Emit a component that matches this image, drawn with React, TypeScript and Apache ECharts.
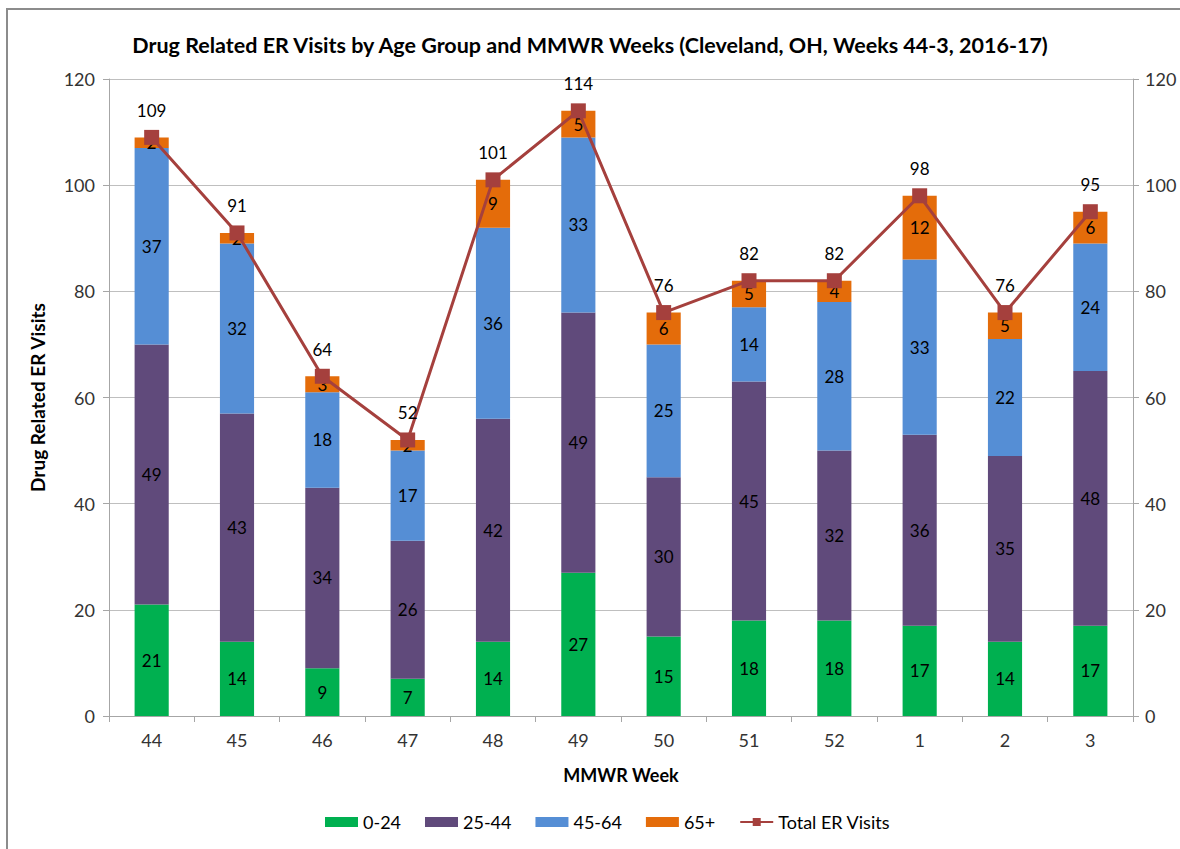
import React, { useEffect, useRef } from "react";
import * as echarts from "echarts";

const weeks = ["44", "45", "46", "47", "48", "49", "50", "51", "52", "1", "2", "3"];
const age0to24 = [21, 14, 9, 7, 14, 27, 15, 18, 18, 17, 14, 17];
const age25to44 = [49, 43, 34, 26, 42, 49, 30, 45, 32, 36, 35, 48];
const age45to64 = [37, 32, 18, 17, 36, 33, 25, 14, 28, 33, 22, 24];
const age65plus = [2, 2, 3, 2, 9, 5, 6, 5, 4, 12, 5, 6];
const totalVisits = [109, 91, 64, 52, 101, 114, 76, 82, 82, 98, 76, 95];

const FONT = "Lato, 'Open Sans', sans-serif";

export default function App() {
  const ref = useRef<HTMLDivElement>(null);
  useEffect(() => {
    document.body.style.margin = "0";
    const chart = echarts.init(ref.current!, null, { renderer: "svg" });
    const segLabel = {
      show: true,
      position: "inside" as const,
      color: "#000",
      fontSize: 17,
      fontFamily: FONT,
    };
    const barSeries = (name: string, data: number[], color: string) => ({
      name,
      type: "bar" as const,
      stack: "total",
      data,
      barWidth: "40%",
      itemStyle: { color },
      label: segLabel,
    });
    const axisStyle = {
      axisLine: { show: true, lineStyle: { color: "#A6A6A6", width: 1 } },
      axisTick: { show: true, length: 6, lineStyle: { color: "#A6A6A6" } },
    };
    chart.setOption({
      animation: false,
      textStyle: { fontFamily: FONT },
      title: {
        text: "Drug Related ER Visits by Age Group and MMWR Weeks (Cleveland, OH, Weeks 44-3, 2016-17)",
        left: "center",
        top: 29,
        textStyle: { fontSize: 21.5, fontWeight: "bold", color: "#000", fontFamily: FONT },
      },
      graphic: [
        {
          type: "rect",
          shape: { x: 7, y: 9, width: 1200, height: 900 },
          style: { fill: "none", stroke: "#8C8C8C", lineWidth: 2 },
          silent: true,
        },
      ],
      grid: { left: 109, right: 47, top: 79, bottom: 133 },
      legend: {
        bottom: 13,
        left: 320,
        itemWidth: 33,
        itemHeight: 10,
        itemGap: 24,
        textStyle: { fontSize: 18, color: "#000", fontFamily: FONT },
        data: [
          { name: "0-24", icon: "rect" },
          { name: "25-44", icon: "rect" },
          { name: "45-64", icon: "rect" },
          { name: "65+", icon: "rect" },
          { name: "Total ER Visits" },
        ],
      },
      xAxis: {
        type: "category",
        data: weeks,
        name: "MMWR Week",
        nameLocation: "middle",
        nameGap: 50,
        nameTextStyle: { fontSize: 18, fontWeight: "bold", color: "#000", fontFamily: FONT },
        axisLabel: { fontSize: 18, color: "#333", margin: 15, fontFamily: FONT },
        ...axisStyle,
      },
      yAxis: [
        {
          type: "value",
          min: 0,
          max: 120,
          interval: 20,
          name: "Drug Related ER Visits",
          nameLocation: "middle",
          nameGap: 62,
          nameTextStyle: { fontSize: 19, fontWeight: "bold", color: "#000", fontFamily: FONT },
          axisLabel: { fontSize: 18, color: "#333", margin: 14, fontFamily: FONT },
          splitLine: { show: true, lineStyle: { color: "#BFBFBF" } },
          ...axisStyle,
        },
        {
          type: "value",
          min: 0,
          max: 120,
          interval: 20,
          position: "right",
          axisLabel: { fontSize: 18, color: "#333", margin: 12, fontFamily: FONT },
          splitLine: { show: false },
          ...axisStyle,
        },
      ],
      series: [
        barSeries("0-24", age0to24, "#00B050"),
        barSeries("25-44", age25to44, "#604A7B"),
        barSeries("45-64", age45to64, "#558ED5"),
        barSeries("65+", age65plus, "#E46C0A"),
        {
          name: "Total ER Visits",
          type: "line",
          data: totalVisits,
          symbol: "rect",
          symbolSize: 15,
          lineStyle: { color: "#A5403D", width: 3 },
          itemStyle: { color: "#A5403D" },
          label: {
            show: true,
            position: "top",
            distance: 11,
            color: "#000",
            fontSize: 17,
            fontFamily: FONT,
          },
          z: 5,
        },
      ],
    });
    return () => chart.dispose();
  }, []);
  return <div ref={ref} style={{ width: 1180, height: 849 }} />;
}
